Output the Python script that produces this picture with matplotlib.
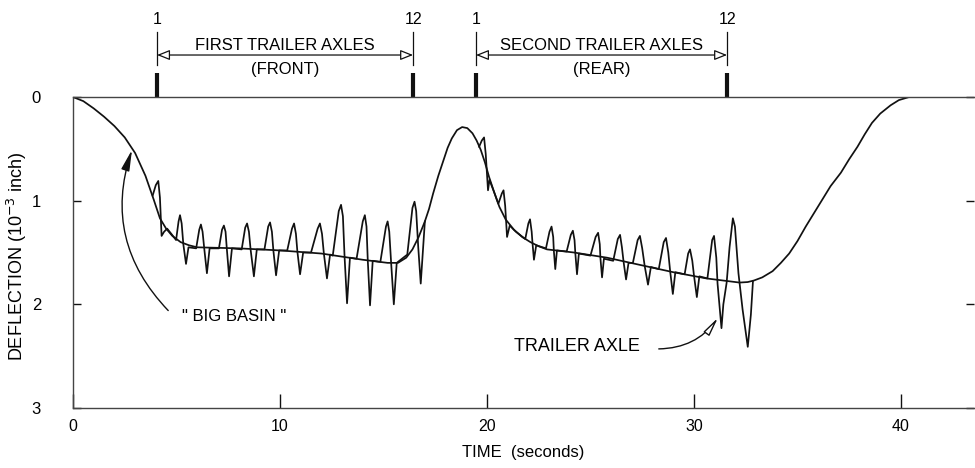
import matplotlib
matplotlib.use("Agg")
import matplotlib.pyplot as plt
from matplotlib.transforms import blended_transform_factory
from matplotlib.patches import ArrowStyle

# ---------------- data ----------------
# smooth "big basin" curve (time s, deflection 1e-3 inch)
basin_t = [0, 0.5, 1.0, 1.5, 2.0, 2.5, 3.0, 3.5, 3.9, 4.2, 4.5, 4.8, 5.2, 5.6, 6.0,
           8.0, 10.0, 12.0, 13.0, 14.0, 15.2, 15.7, 16.1, 16.4, 16.7, 17.0, 17.2,
           17.4, 17.65, 17.9, 18.1, 18.3, 18.55, 18.8, 19.05, 19.3, 19.5, 19.7,
           19.9, 20.1, 20.35, 20.6, 20.9, 21.3, 21.7, 22.1, 22.5, 22.9, 24.2, 25.8,
           27.4, 29.0, 30.6, 32.2, 32.6, 32.9, 33.3, 33.8, 34.2, 34.6, 35.0, 35.4,
           35.8, 36.2, 36.6, 37.1, 37.5, 37.9, 38.25, 38.6, 39.0, 39.5, 39.9, 40.4,
           43.6]
basin_d = [0, 0.04, 0.11, 0.19, 0.28, 0.39, 0.54, 0.76, 0.99, 1.17, 1.27, 1.34, 1.40,
           1.43, 1.45, 1.46, 1.48, 1.51, 1.54, 1.57, 1.60, 1.60, 1.55, 1.47, 1.35,
           1.20, 1.08, 0.93, 0.76, 0.61, 0.49, 0.40, 0.32, 0.29, 0.30, 0.35, 0.42,
           0.51, 0.63, 0.77, 0.92, 1.06, 1.18, 1.28, 1.35, 1.40, 1.44, 1.47, 1.50,
           1.55, 1.62, 1.69, 1.75, 1.79, 1.785, 1.77, 1.74, 1.68, 1.60, 1.51, 1.39,
           1.25, 1.12, 0.99, 0.86, 0.73, 0.60, 0.48, 0.36, 0.25, 0.16, 0.08, 0.03,
           0.0, 0.0]

# oscillating trace, first trailer axles (front)
front_t = [3.85, 4.00, 4.12, 4.20, 4.28, 4.40, 4.55, 4.75,
           4.98, 5.10, 5.17, 5.25, 5.33, 5.46, 5.58, 5.95,
           6.10, 6.18, 6.26, 6.34, 6.47, 6.60, 7.05,
           7.20, 7.29, 7.37, 7.43, 7.54, 7.68, 8.15,
           8.32, 8.41, 8.50, 8.58, 8.74, 8.88, 9.25,
           9.43, 9.52, 9.61, 9.68, 9.81, 9.96, 10.35,
           10.58, 10.68, 10.77, 10.84, 10.97, 11.12, 11.50,
           11.82, 11.93, 12.03, 12.12, 12.27, 12.42, 12.55,
           12.84, 12.95, 13.04, 13.12, 13.24, 13.38, 13.70,
           14.00, 14.10, 14.18, 14.24, 14.35, 14.48, 14.85,
           15.12, 15.20, 15.28, 15.37, 15.50, 15.64, 16.15,
           16.40, 16.50, 16.58, 16.68, 16.80, 16.90, 17.00]
front_d = [0.95, 0.85, 0.81, 0.97, 1.34, 1.30, 1.27, 1.32,
           1.38, 1.20, 1.14, 1.22, 1.42, 1.61, 1.45, 1.46,
           1.28, 1.23, 1.30, 1.46, 1.70, 1.46, 1.46,
           1.28, 1.24, 1.30, 1.46, 1.73, 1.46, 1.47,
           1.26, 1.22, 1.30, 1.47, 1.73, 1.47, 1.47,
           1.25, 1.21, 1.30, 1.48, 1.72, 1.48, 1.48,
           1.27, 1.22, 1.32, 1.49, 1.71, 1.50, 1.50,
           1.27, 1.22, 1.32, 1.51, 1.75, 1.52, 1.53,
           1.10, 1.04, 1.15, 1.54, 1.99, 1.55, 1.56,
           1.20, 1.14, 1.25, 1.57, 2.01, 1.58, 1.59,
           1.25, 1.20, 1.30, 1.60, 2.00, 1.60, 1.52,
           1.07, 1.01, 1.10, 1.45, 1.80, 1.50, 1.20]

# oscillating trace, second trailer axles (rear)
rear_t = [19.62, 19.75, 19.86, 19.94, 20.05, 20.12, 20.35,
          20.55, 20.72, 20.80, 20.88, 20.97, 21.10, 21.40,
          21.85, 22.00, 22.08, 22.16, 22.20, 22.27, 22.38, 22.85,
          23.02, 23.12, 23.20, 23.23, 23.30, 23.38, 23.85,
          24.05, 24.15, 24.23, 24.27, 24.35, 24.44, 25.00,
          25.25, 25.37, 25.45, 25.48, 25.56, 25.65, 26.10,
          26.32, 26.43, 26.52, 26.60, 26.72, 26.84, 27.05,
          27.28, 27.39, 27.50, 27.62, 27.78, 27.92, 28.30,
          28.54, 28.65, 28.76, 28.85, 28.98, 29.10, 29.55,
          29.72, 29.81, 29.92, 30.00, 30.14, 30.26, 30.65,
          30.88, 30.97, 31.08, 31.14, 31.33, 31.42, 31.58,
          31.72, 31.88, 31.98, 32.15, 32.35, 32.60, 32.75, 32.85]
rear_d = [0.48, 0.42, 0.39, 0.55, 0.90, 0.80, 0.92,
          1.03, 0.93, 0.90, 1.05, 1.35, 1.24, 1.30,
          1.37, 1.22, 1.18, 1.30, 1.41, 1.57, 1.43, 1.46,
          1.30, 1.25, 1.35, 1.48, 1.66, 1.48, 1.49,
          1.33, 1.29, 1.38, 1.51, 1.71, 1.51, 1.53,
          1.35, 1.31, 1.42, 1.55, 1.74, 1.56, 1.58,
          1.37, 1.33, 1.45, 1.59, 1.76, 1.60, 1.60,
          1.38, 1.34, 1.46, 1.63, 1.81, 1.64, 1.66,
          1.40, 1.36, 1.50, 1.68, 1.90, 1.69, 1.71,
          1.51, 1.47, 1.58, 1.72, 1.93, 1.73, 1.75,
          1.38, 1.34, 1.55, 1.80, 2.23, 2.00, 1.79,
          1.45, 1.17, 1.25, 1.70, 2.05, 2.41, 2.10, 1.78]

x_ticks = [0, 10, 20, 30, 40]
y_ticks = [0, 1, 2, 3]
axle_times = [4.06, 16.43, 19.47, 31.60]
axle_labels = ["1", "12", "1", "12"]
group_titles = ["FIRST TRAILER AXLES", "SECOND TRAILER AXLES"]
group_subtitles = ["(FRONT)", "(REAR)"]

# ---------------- figure ----------------
W, H = 975, 468
fig = plt.figure(figsize=(W / 100, H / 100), dpi=100)
ax = fig.add_axes([73 / W, 1 - 408 / H, 901 / W, 311 / H])
ax.set_xlim(0, 43.53)
ax.set_ylim(3, 0)

FONT = ["Liberation Sans", "DejaVu Sans"]
ink = "#111111"

ax.plot(basin_t, basin_d, color=ink, lw=1.25, solid_joinstyle="round")
ax.plot(front_t, front_d, color=ink, lw=1.25, solid_joinstyle="round")
ax.plot(rear_t, rear_d, color=ink, lw=1.25, solid_joinstyle="round")

for s in ["left", "bottom", "top"]:
    ax.spines[s].set_color("#444444")
    ax.spines[s].set_linewidth(1.0)
ax.spines["right"].set_visible(False)

ax.set_xticks(x_ticks)
ax.set_xticklabels([str(v) for v in x_ticks], fontfamily=FONT, fontsize=11.5)
ax.set_yticks(y_ticks)
ax.set_yticklabels([str(v) for v in y_ticks], fontfamily=FONT, fontsize=12)
ax.tick_params(axis="x", direction="in", length=10, width=1, pad=8, color=ink)
ax.tick_params(axis="y", direction="in", length=6, width=1, pad=23, color=ink,
               right=True)

ax.set_xlabel("TIME  (seconds)", fontfamily=FONT, fontsize=12, labelpad=8)
fig.text(17 / W, 1 - 256 / H, "DEFLECTION (10$^{-3}$ inch)", rotation=90,
         ha="center", va="center", fontfamily=FONT, fontsize=13)

# ---------------- axle markers on top ----------------
tr = blended_transform_factory(ax.transData, ax.transAxes)
for t, lab in zip(axle_times, axle_labels):
    ax.text(t, 1.248, lab, transform=tr, ha="center", va="center",
            fontfamily=FONT, fontsize=11.5, clip_on=False)
    ax.plot([t, t], [1.103, 1.209], transform=tr, color=ink, lw=0.9,
            clip_on=False)
    ax.plot([t, t], [1.0, 1.077], transform=tr, color=ink, lw=3,
            solid_capstyle="butt", clip_on=False)

for i, (title, sub) in enumerate(zip(group_titles, group_subtitles)):
    t0, t1 = axle_times[2 * i], axle_times[2 * i + 1]
    ax.annotate("", xy=(t0, 1.135), xytext=(t1, 1.135), xycoords=tr,
                textcoords=tr,
                arrowprops=dict(arrowstyle=ArrowStyle("<|-|>", head_length=0.55,
                                                      head_width=0.22),
                                mutation_scale=14, fc="white", ec=ink, lw=0.9,
                                shrinkA=0, shrinkB=0),
                annotation_clip=False)
    tm = (t0 + t1) / 2
    ax.text(tm, 1.167, title, transform=tr, ha="center", va="center",
            fontfamily=FONT, fontsize=12, clip_on=False,
            bbox=dict(fc="white", ec="none", pad=0.3))
    ax.text(tm, 1.087, sub, transform=tr, ha="center", va="center",
            fontfamily=FONT, fontsize=12, clip_on=False)

# ---------------- annotations ----------------
ax.text(7.8, 2.12, '" BIG BASIN "', ha="center", va="center",
        fontfamily=FONT, fontsize=12)
ax.annotate("", xy=(2.85, 0.51), xytext=(4.6, 2.06),
            arrowprops=dict(arrowstyle=ArrowStyle("-|>", head_length=0.9,
                                                  head_width=0.18),
                            mutation_scale=14, fc=ink, ec=ink, lw=1.0,
                            connectionstyle="arc3,rad=-0.3",
                            shrinkA=0, shrinkB=0))
ax.text(24.35, 2.41, "TRAILER AXLE", ha="center", va="center",
        fontfamily=FONT, fontsize=13)
ax.annotate("", xy=(31.16, 2.13), xytext=(28.3, 2.43),
            arrowprops=dict(arrowstyle=ArrowStyle("-|>", head_length=0.8,
                                                  head_width=0.15),
                            mutation_scale=14, fc="white", ec=ink, lw=1.0,
                            connectionstyle="arc3,rad=0.25",
                            shrinkA=0, shrinkB=0))

fig.savefig("out.png", dpi=100, facecolor="white")
